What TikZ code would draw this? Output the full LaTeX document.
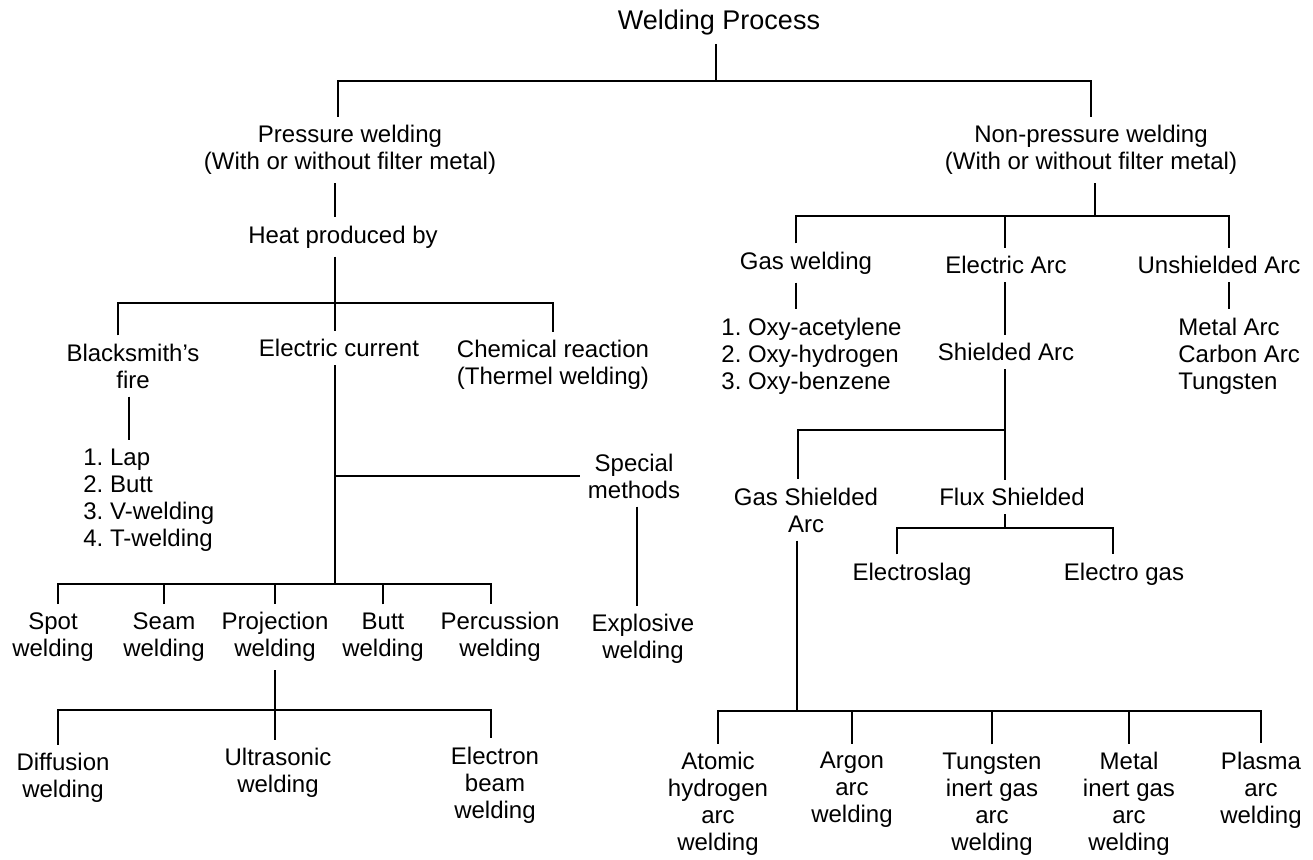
\documentclass[tikz,border=0pt]{standalone}
\usepackage{fontspec}
\setmainfont{Liberation Sans}
\usepackage{tikz}
\usetikzlibrary{positioning, calc}

\begin{document}
\begin{tikzpicture}[
    x=0.5pt, y=-0.5pt,
    txt/.style={align=center, font=\fontsize{12}{13.5}\selectfont\frenchspacing, inner sep=4pt},
    lst/.style={txt, align=left, anchor=west},
    lnk/.style={line width=1.3pt}
]
\useasboundingbox (0,0) rectangle (1313,859);

% Top level
\node[txt, font=\fontsize{13.5}{15}\selectfont] (root) at (719,23) {Welding Process};
\node[txt] (press) at (350,150) {Pressure welding\\(With or without filter metal)};
\node[txt] (nonp) at (1091,150) {Non-pressure welding\\(With or without filter metal)};

% Pressure welding branch
\node[txt] (heat) at (343,237) {Heat produced by};
\node[txt] (black) at (133,366) {Blacksmith's\\fire};
\node[txt] (elec) at (339,348) {Electric current};
\node[txt] (chem) at (553,365) {Chemical reaction\\(Thermel welding)};
\node[lst] (lap) at (75,500) {1. Lap\\2. Butt\\3. V-welding\\4. T-welding};
\node[txt] (spec) at (634,476) {Special\\methods};
\node[txt] (spot) at (53,637) {Spot\\welding};
\node[txt] (seam) at (164,637) {Seam\\welding};
\node[txt] (proj) at (275,637) {Projection\\welding};
\node[txt] (butt) at (383,637) {Butt\\welding};
\node[txt] (perc) at (500,637) {Percussion\\welding};
\node[txt] (expl) at (643,639) {Explosive\\welding};
\node[txt] (diff) at (63,778) {Diffusion\\welding};
\node[txt] (ultra) at (278,773) {Ultrasonic\\welding};
\node[txt] (ebeam) at (495,785) {Electron\\beam\\welding};

% Non-pressure welding branch
\node[txt] (gasw) at (806,263) {Gas welding};
\node[txt] (earc) at (1006,265) {Electric Arc};
\node[txt] (unsh) at (1219,265) {Unshielded Arc};
\node[lst] (oxy) at (713,356) {1. Oxy-acetylene\\2. Oxy-hydrogen\\3. Oxy-benzene};
\node[txt] (shld) at (1006,352) {Shielded Arc};
\node[lst] (metal) at (1170,356) {Metal Arc\\Carbon Arc\\Tungsten};
\node[txt] (gsa) at (806,510) {Gas Shielded\\Arc};
\node[txt] (flux) at (1012,497) {Flux Shielded};
\node[txt] (eslag) at (912,574) {Electroslag};
\node[txt] (egas) at (1124,574) {Electro gas};
\node[txt] (atom) at (718,804) {Atomic\\hydrogen\\arc\\welding};
\node[txt] (argon) at (852,790) {Argon\\arc\\welding};
\node[txt] (tig) at (992,804) {Tungsten\\inert gas\\arc\\welding};
\node[txt] (mig) at (1129,804) {Metal\\inert gas\\arc\\welding};
\node[txt] (plasma) at (1261,790) {Plasma\\arc\\welding};

% Bars
\coordinate (b1) at (716,81);
\coordinate (b2) at (335,303);
\coordinate (b3) at (335,584);
\coordinate (b4) at (275,710);
\coordinate (b5) at (1095,216);
\coordinate (b6) at (1005,430);
\coordinate (b7) at (1005,528);
\coordinate (b8) at (797,711);

% Lines, pressure side
\draw[lnk] (root.south -| b1) -- (b1);
\draw[lnk] ([xshift=-6pt]press.north) |- (b1) -| (nonp.north);
\draw[lnk] ([xshift=-7.5pt]press.south) -- ([xshift=-4pt]heat.north);
\draw[lnk] ([xshift=-4pt]heat.south) -- (b2);
\draw[lnk] ([xshift=-7.5pt]black.north) |- (b2) -| (chem.north);
\draw[lnk] (b2) -- (b2 |- elec.north);
\draw[lnk] ([xshift=-2pt]black.south) -- ([xshift=-2pt]black.south |- lap.north);
\draw[lnk] (elec.south -| b3) -- (b3);
\draw[lnk] (b3 |- spec.west) -- (spec.west);
\draw[lnk] ([xshift=1.5pt]spec.south) -- ([xshift=1.5pt]spec.south |- expl.north);
\draw[lnk] ([xshift=2.5pt]spot.north) |- (b3) -| ([xshift=-4.5pt]perc.north);
\foreach \n in {seam,proj,butt}
    \draw[lnk] (\n.north) -- (\n.north |- b3);
\draw[lnk] (proj.south) -- (b4);
\draw[lnk] ([xshift=-2.5pt]diff.north) |- (b4) -| ([xshift=-2pt]ebeam.north);
\draw[lnk] (b4) -- (b4 |- ultra.north);

% Lines, non-pressure side
\draw[lnk] (nonp.south -| b5) -- (b5);
\draw[lnk] ([xshift=-5pt]gasw.north) |- (b5) -| ([xshift=5pt]unsh.north);
\draw[lnk] (b5 -| b6) -- (b6 |- earc.north);
\draw[lnk] ([xshift=-5pt]gasw.south) -- ([xshift=-5pt]gasw.south |- oxy.north);
\draw[lnk] (earc.south -| b6) -- (shld.north -| b6);
\draw[lnk] ([xshift=5pt]unsh.south) -- ([xshift=5pt]unsh.south |- metal.north);
\draw[lnk] (shld.south -| b6) -- (flux.north -| b6);
\draw[lnk] (b6) -| ([xshift=-4pt]gsa.north);
\draw[lnk] (flux.south -| b7) -- (b7);
\draw[lnk] ([xshift=-7.5pt]eslag.north) |- (b7) -| ([xshift=-5.5pt]egas.north);
\draw[lnk] (gsa.south -| b8) -- (b8);
\draw[lnk] (atom.north) |- (b8) -| (plasma.north);
\foreach \n in {argon,tig,mig}
    \draw[lnk] (\n.north) -- (\n.north |- b8);

\end{tikzpicture}
\end{document}
